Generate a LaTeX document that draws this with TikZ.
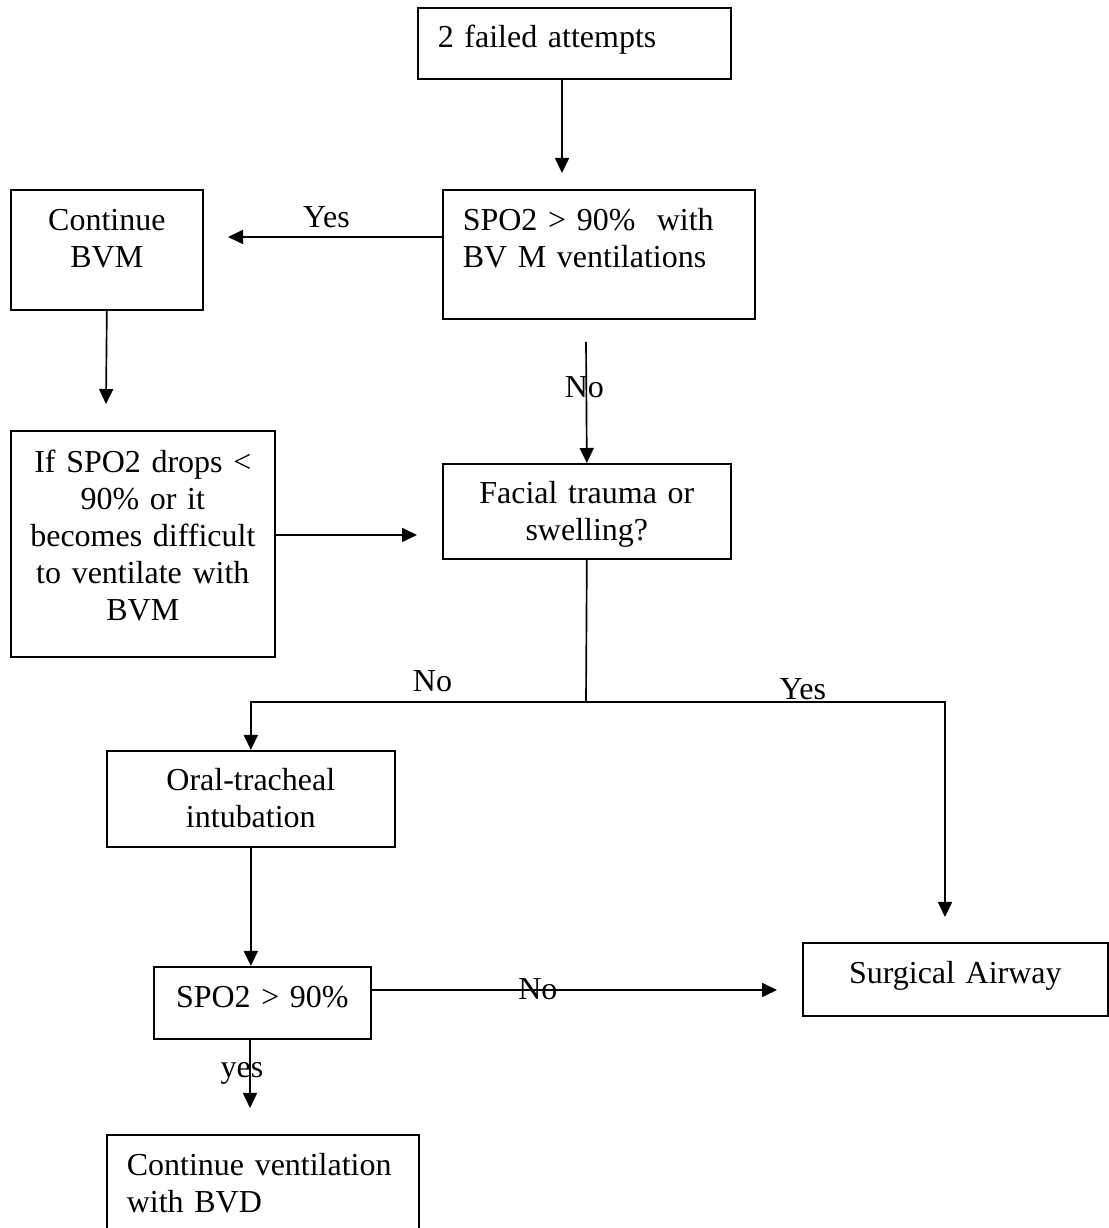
\documentclass[tikz,border=0pt]{standalone}
\usepackage{fontspec}
\setmainfont{Liberation Serif}
\usetikzlibrary{arrows.meta,calc}

\begin{document}
\begin{tikzpicture}[
    box/.style={draw, line width=0.95pt, anchor=north west, inner xsep=0.4cm, inner ysep=0pt, font=\fontsize{18.2}{21}\selectfont},
    cbox/.style={box, align=center, inner xsep=0.15cm},
    arr/.style={line width=0.95pt, -{Triangle[length=0.3cm, width=0.28cm]}},
    lbl/.style={font=\fontsize{18.2}{21}\selectfont, inner sep=0pt, anchor=base}
]
\clip (0,0) rectangle (22.18,24.56);

% boxes
\node[box, align=left, text width=5.46cm, text height=0.80cm, text depth=0.62cm] (fail) at (8.34,24.42) {2 failed attempts};
\node[box, align=left, text width=5.44cm, text height=0.82cm, text depth=1.76cm] (spo) at (8.84,20.78) {SPO2 > 90\%\ \ with\\BV M ventilations};
\node[cbox, text width=3.54cm, text height=0.82cm, text depth=1.58cm] (bvm) at (0.20,20.78) {Continue\\BVM};
\node[cbox, text width=4.98cm, text height=0.84cm, text depth=3.68cm] (drop) at (0.20,15.96) {If SPO2 drops <\\90\% or it\\becomes difficult\\to ventilate with\\BVM};
\node[cbox, text width=5.46cm, text height=0.80cm, text depth=1.10cm] (face) at (8.84,15.30) {Facial trauma or\\swelling?};
\node[cbox, text width=5.46cm, text height=0.80cm, text depth=1.12cm] (oral) at (2.12,9.56) {Oral-tracheal\\intubation};
\node[cbox, text width=4.04cm, text height=0.82cm, text depth=0.62cm] (sat) at (3.06,5.24) {SPO2 > 90\%};
\node[cbox, text width=5.80cm, text height=0.82cm, text depth=0.64cm] (surg) at (16.04,5.72) {Surgical Airway};
\node[box, align=left, text width=5.44cm, text height=0.82cm, text depth=2.00cm] (cont) at (2.12,1.88) {Continue ventilation\\with BVD};

% free arrow ends
\coordinate (t1) at (11.24,21.10);
\coordinate (t2) at (4.56,19.82);
\coordinate (t3) at (2.12,16.48);
\coordinate (t4) at (8.34,13.86);
\coordinate (s5) at (11.72,17.72);
\coordinate (j) at (11.72,10.52);
\coordinate (t6) at (18.90,6.22);
\coordinate (t7) at (15.54,4.76);
\coordinate (t8) at (5.00,2.40);

% connectors
\draw[arr] (fail.south -| t1) -- (t1);
\draw[arr] (spo.west |- t2) -- node[lbl, pos=0.54, yshift=0.18cm] {Yes} (t2);
\draw[arr] (bvm.south) -- (t3);
\draw[arr] (drop.east |- t4) -- (t4);
\draw[arr] (s5) -- node[lbl, pos=0.455, xshift=-0.04cm] {No} (face.north);
\draw[line width=0.95pt] (face.south) -- (j);
\draw[arr] (j) -- node[lbl, pos=0.458, yshift=0.2cm] {No} (j -| oral.north) -- (oral.north);
\draw[arr] (j) -- node[lbl, pos=0.604, yshift=0.04cm] {Yes} (j -| t6) -- (t6);
\draw[arr] (oral.south) -- (oral.south |- sat.north);
\draw[arr] (sat.east |- t7) -- node[lbl, pos=0.41, yshift=-0.2cm] {No} (t7);
\draw[arr] (sat.south -| t8) -- node[lbl, pos=0.557, xshift=-0.16cm] {yes} (t8);
\end{tikzpicture}
\end{document}
